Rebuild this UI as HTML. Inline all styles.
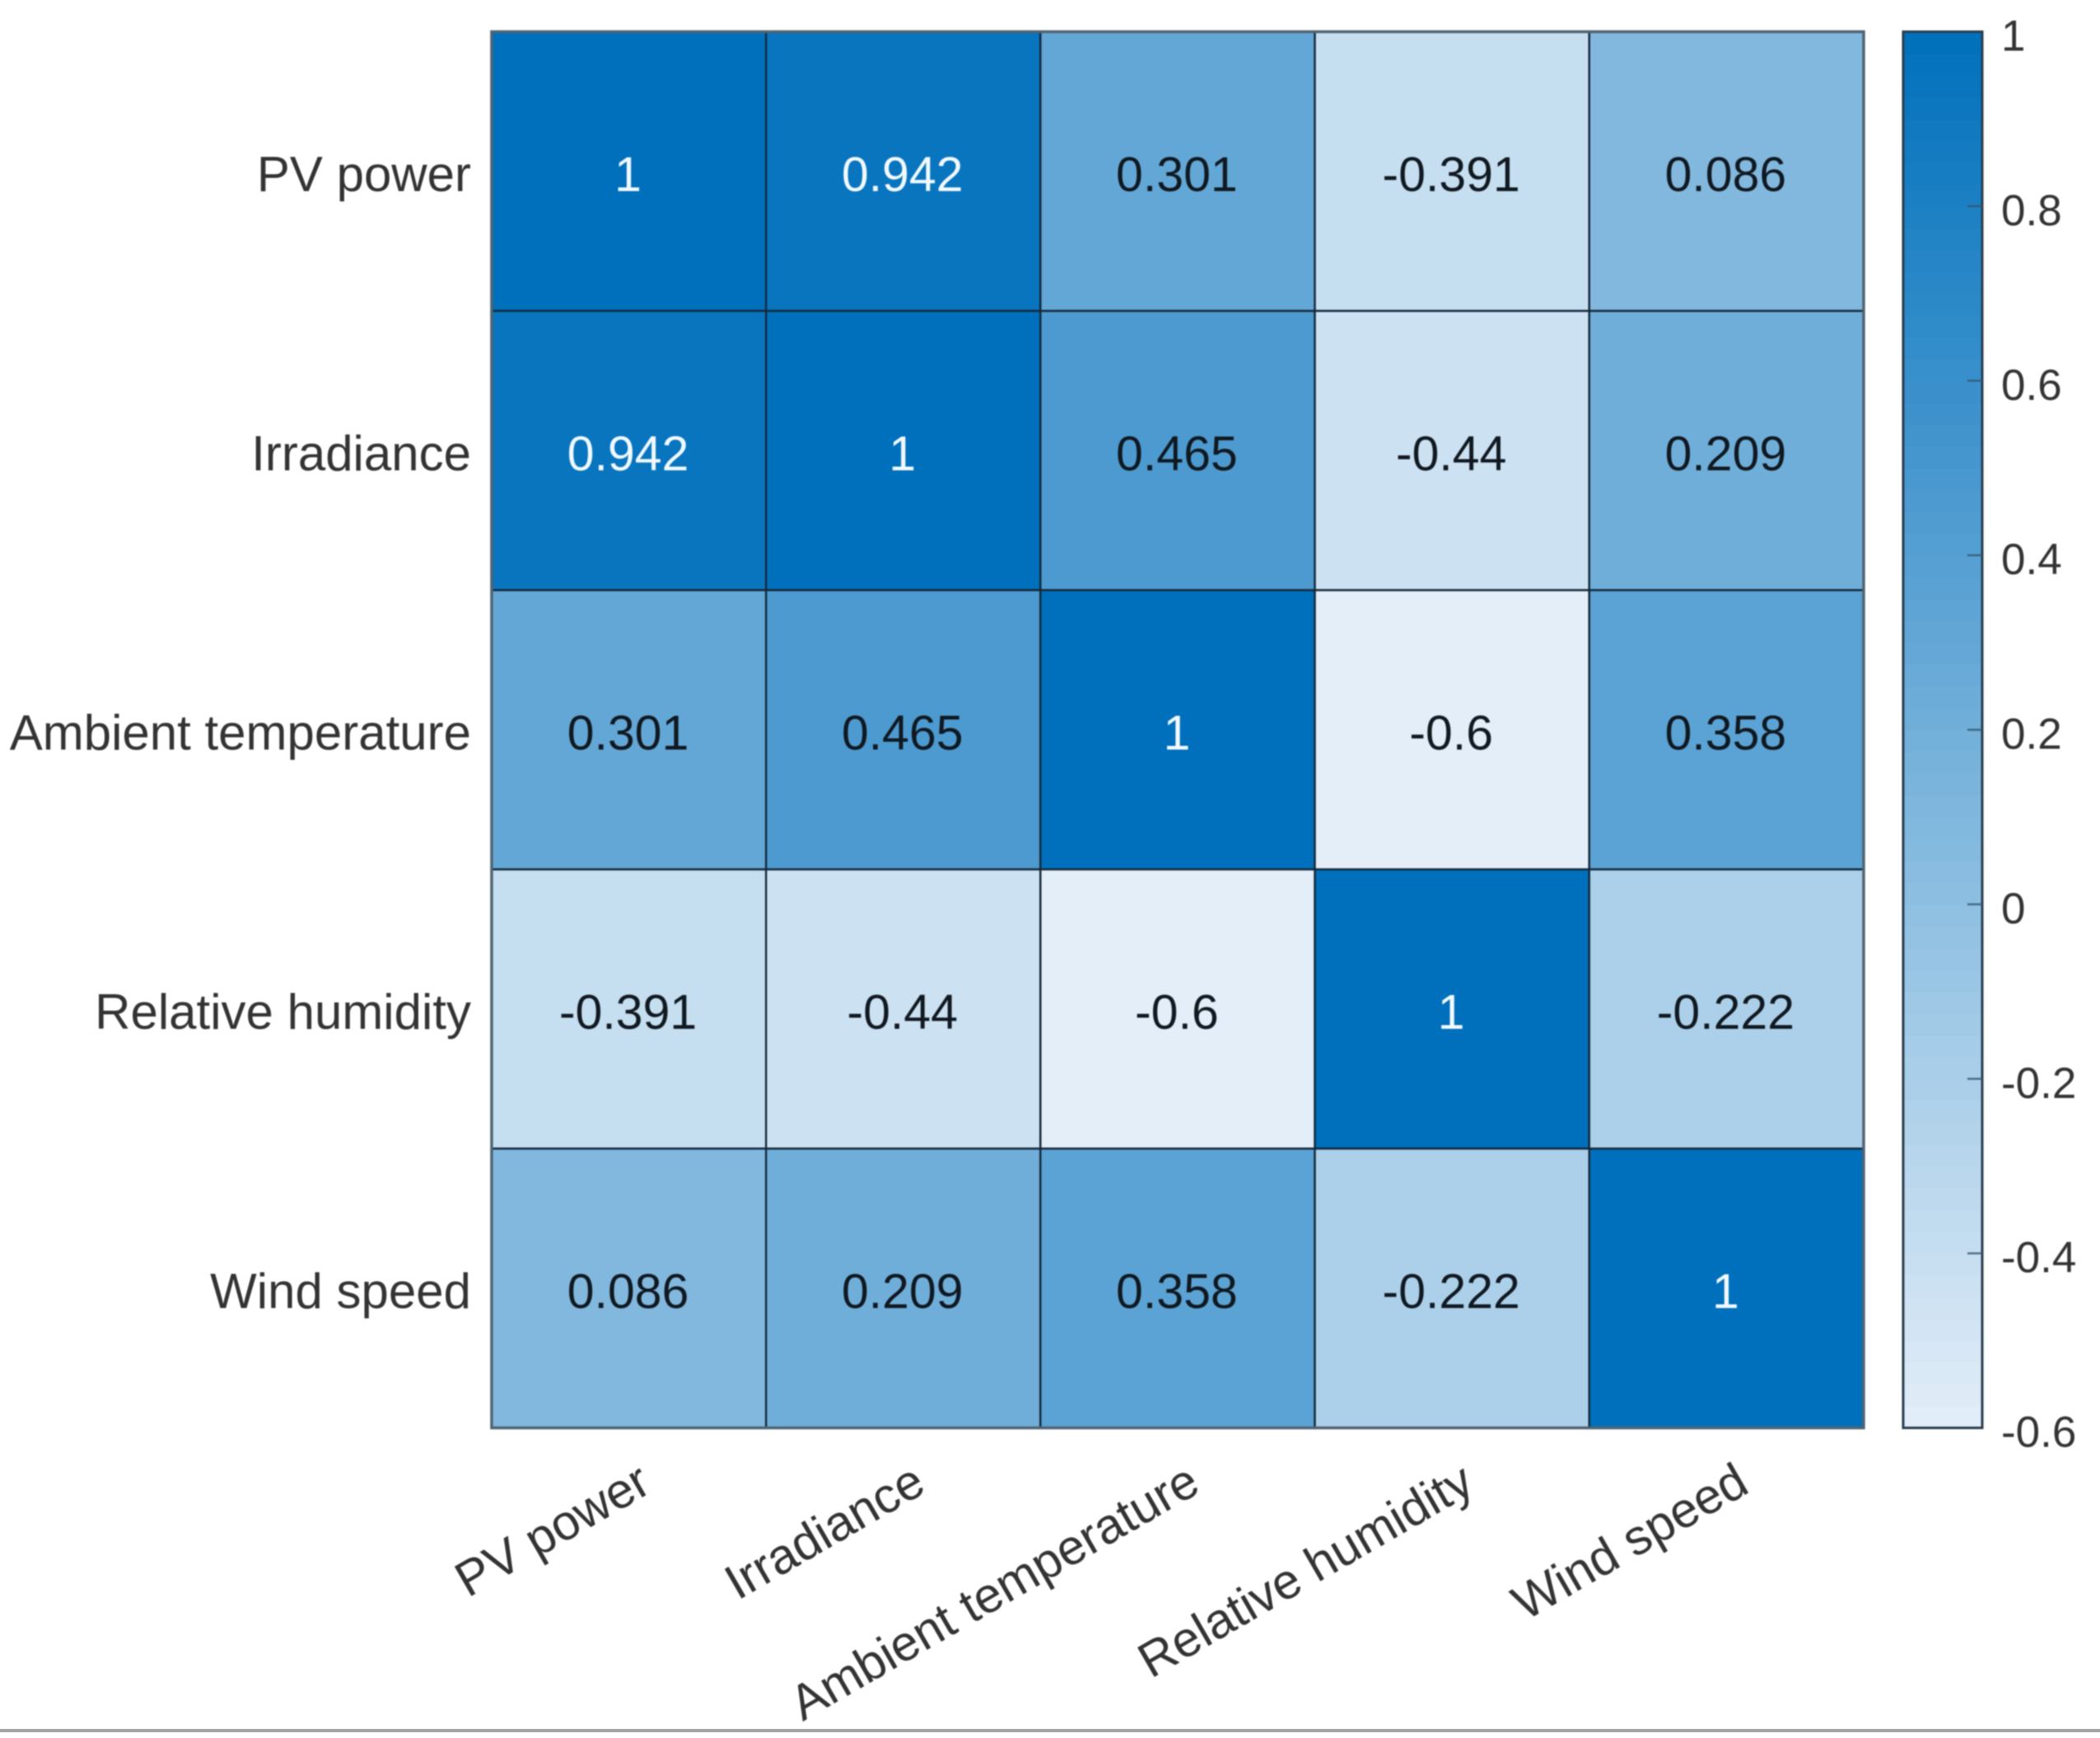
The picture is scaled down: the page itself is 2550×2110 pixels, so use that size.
<!DOCTYPE html>
<html lang="en">
<head>
<meta charset="utf-8">
<title>Correlation heatmap</title>
<style>
html,body{margin:0;padding:0;background:#fff;width:2550px;height:2110px;overflow:hidden}
svg{display:block}
text{font-family:"Liberation Sans",Arial,sans-serif}
</style>
</head>
<body>
<svg id="chart" xmlns="http://www.w3.org/2000/svg" width="2550" height="2110" viewBox="0 0 2550 2110">
  <rect x="0" y="0" width="2550" height="2110" fill="#ffffff"/>
  <g id="content" style="filter:blur(0.8px)"></g>
  <rect x="0" y="2099" width="2550" height="4" fill="#a3a3a3"/>
</svg>
<script>
const categories = ["PV power", "Irradiance", "Ambient temperature", "Relative humidity", "Wind speed"];
const rowPvPower = [1, 0.942, 0.301, -0.391, 0.086];
const rowIrradiance = [0.942, 1, 0.465, -0.44, 0.209];
const rowAmbientTemperature = [0.301, 0.465, 1, -0.6, 0.358];
const rowRelativeHumidity = [-0.391, -0.44, -0.6, 1, -0.222];
const rowWindSpeed = [0.086, 0.209, 0.358, -0.222, 1];
const colorbarTicks = [1, 0.8, 0.6, 0.4, 0.2, 0, -0.2, -0.4, -0.6];

const matrixRows = [rowPvPower, rowIrradiance, rowAmbientTemperature, rowRelativeHumidity, rowWindSpeed];

const SVGNS = "http://www.w3.org/2000/svg";
const content = document.getElementById("content");

const plot = {left: 597, right: 2263, top: 38.5, bottom: 1733.5};
const bar = {left: 2311, right: 2407, top: 38.5, bottom: 1733.5};
const domainMin = -0.6;
const domainMax = 1;
const lowColor = [227, 238, 248];
const highColor = [0, 112, 188];

function xBand(i) { return plot.left + (plot.right - plot.left) * i / categories.length; }
function yBand(i) { return plot.top + (plot.bottom - plot.top) * i / categories.length; }
function barY(v) { return bar.bottom - (v - domainMin) / (domainMax - domainMin) * (bar.bottom - bar.top); }
function colorOf(v) {
  const t = Math.max(0, Math.min(1, (v - domainMin) / (domainMax - domainMin)));
  const c = lowColor.map(function (lo, k) { return Math.round(lo + (highColor[k] - lo) * t); });
  return "rgb(" + c.join(",") + ")";
}
function make(tag, attrs, parent) {
  const el = document.createElementNS(SVGNS, tag);
  Object.keys(attrs).forEach(function (k) { el.setAttribute(k, attrs[k]); });
  parent.appendChild(el);
  return el;
}
function slug(s) { return s.toLowerCase().replace(/\s+/g, "-"); }

/* heatmap cells and printed values */
matrixRows.forEach(function (row, r) {
  row.forEach(function (value, c) {
    const cell = make("rect", {
      x: xBand(c), y: yBand(r),
      width: xBand(c + 1) - xBand(c), height: yBand(r + 1) - yBand(r),
      fill: colorOf(value), stroke: "#14283a", "stroke-width": 2.4
    }, content);
    
    
  });
});
matrixRows.forEach(function (row, r) {
  row.forEach(function (value, c) {
    const label = make("text", {
      x: (xBand(c) + xBand(c + 1)) / 2 - 1, y: (yBand(r) + yBand(r + 1)) / 2 + 24,
      "text-anchor": "middle", "font-size": 59,
      fill: value > 0.9 ? "#f2f9ff" : "#101820"
    }, content);
    label.textContent = String(value);
    
    
  });
});

/* outer plot border */
const frame = make("rect", {
  x: plot.left, y: plot.top, width: plot.right - plot.left, height: plot.bottom - plot.top,
  fill: "none", stroke: "#4f6473", "stroke-width": 3.5
}, content);



/* y category labels */
categories.forEach(function (name, i) {
  const label = make("text", {
    x: 572, y: (yBand(i) + yBand(i + 1)) / 2 + 24,
    "text-anchor": "end", "font-size": 60, fill: "#333333"
  }, content);
  label.textContent = name;
  
  
});

/* x category labels, rotated 30 degrees */
categories.forEach(function (name, i) {
  const ax = (xBand(i) + xBand(i + 1)) / 2 + 30;
  const ay = 1810;
  const label = make("text", {
    x: ax, y: ay, "text-anchor": "end", "font-size": 60, fill: "#333333",
    transform: "rotate(-30 " + ax + " " + ay + ")"
  }, content);
  label.textContent = name;
  
  
});

/* colorbar gradient */
const barGroup = make("g", {}, content);


const steps = 64;
for (let s = 0; s < steps; s++) {
  const vLow = domainMin + (domainMax - domainMin) * s / steps;
  const vHigh = domainMin + (domainMax - domainMin) * (s + 1) / steps;
  const swatch = make("rect", {
    x: bar.left, y: barY(vHigh), width: bar.right - bar.left,
    height: barY(vLow) - barY(vHigh) + 0.6, fill: colorOf((vLow + vHigh) / 2)
  }, barGroup);
  
  
}
const barFrame = make("rect", {
  x: bar.left, y: bar.top, width: bar.right - bar.left, height: bar.bottom - bar.top,
  fill: "none", stroke: "#2a3d4e", "stroke-width": 3
}, content);



/* colorbar ticks and labels */
colorbarTicks.forEach(function (v) {
  const y = barY(v);
  if (v !== domainMax && v !== domainMin) {
    const tick = make("line", {
      x1: bar.right - 18, x2: bar.right, y1: y, y2: y,
      stroke: "#33566f", "stroke-width": 2.4, "stroke-opacity": 0.8
    }, content);
    
    
  }
  const label = make("text", {
    x: 2430, y: y + 23, "font-size": 53, fill: "#333333"
  }, content);
  label.textContent = String(v);
  
  
});
</script>
</body>
</html>
